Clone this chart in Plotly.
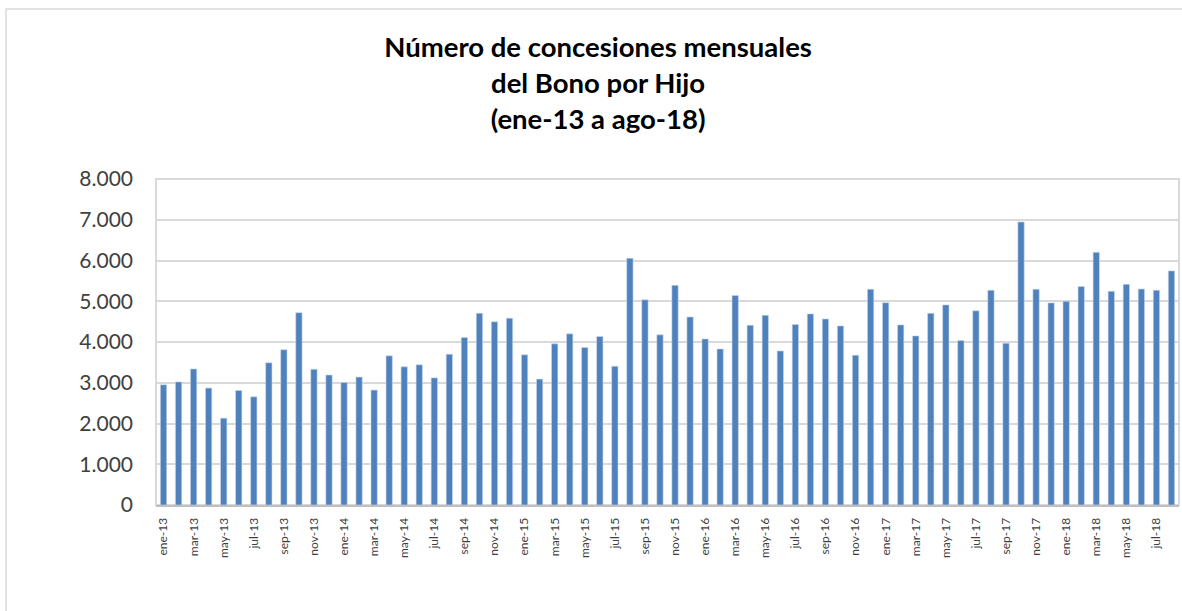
import plotly.graph_objects as go

months = ["ene", "feb", "mar", "abr", "may", "jun", "jul", "ago", "sep", "oct", "nov", "dic"]
categories = [f"{m}-{y}" for y in range(13, 19) for m in months][:68]

values = [
    2950, 3020, 3340, 2870, 2130, 2810, 2655, 3490, 3810, 4720, 3330, 3190,
    3005, 3140, 2820, 3660, 3390, 3440, 3120, 3700, 4110, 4705, 4495, 4585,
    3685, 3090, 3955, 4200, 3865, 4135, 3405, 6055, 5035, 4175, 5390, 4615,
    4075, 3830, 5140, 4410, 4655, 3780, 4430, 4690, 4565, 4395, 3675, 5295,
    4965, 4420, 4150, 4705, 4910, 4035, 4765, 5270, 3970, 6945, 5295, 4960,
    5000, 5360, 6200, 5245, 5415, 5300, 5270, 5745,
]

tick_labels = categories[::2]
y_ticks = [0, 1000, 2000, 3000, 4000, 5000, 6000, 7000, 8000]
y_tick_text = ["0", "1.000", "2.000", "3.000", "4.000", "5.000", "6.000", "7.000", "8.000"]

title_text = "Número de concesiones mensuales<br>del Bono por Hijo<br>(ene-13 a ago-18)"

fig = go.Figure()
fig.add_trace(go.Bar(
    x=categories,
    y=values,
    marker=dict(color="#4F81BD", line=dict(color="#C9D7EA", width=0.6)),
    showlegend=False,
))

W, H = 1182, 611
L, R, T, B = 156, 3, 179, 106
pw = W - L - R
ph = H - T - B

fig.update_layout(
    width=W, height=H,
    margin=dict(l=L, r=R, t=T, b=B),
    paper_bgcolor="white",
    plot_bgcolor="white",
    bargap=0.58,
    font=dict(family="Lato, 'Open Sans', sans-serif", color="#404040"),
    title=dict(
        text=title_text,
        x=0.506, xanchor="center",
        yref="container",
        y=1 - 57 / H, yanchor="top",
        font=dict(family="Lato, 'Open Sans', sans-serif", size=27.5, color="black", weight="bold"),
    ),
    xaxis=dict(
        type="category",
        tickmode="array",
        tickvals=tick_labels,
        ticktext=tick_labels,
        tickangle=-90,
        tickfont=dict(size=12, color="#404040"),
        showgrid=False,
        showline=True,
        linecolor="#BFBFBF",
        linewidth=2,
        ticks="",
        ticklabelstandoff=6,
        range=[-0.5, 67.5],
    ),
    yaxis=dict(
        range=[0, 8000],
        tickmode="array",
        tickvals=y_ticks,
        ticktext=y_tick_text,
        tickfont=dict(size=21, color="#404040"),
        showgrid=True,
        gridcolor="#D9D9D9",
        gridwidth=1.5,
        showline=False,
        zeroline=False,
        ticks="",
        ticklabelstandoff=22,
    ),
    shapes=[
        dict(type="rect", xref="paper", yref="paper", x0=0, x1=1, y0=0, y1=1,
             line=dict(color="#D9D9D9", width=2), layer="below"),
        dict(type="rect", xref="paper", yref="paper",
             x0=(6 - L) / pw, x1=(W + 20 - L) / pw,
             y0=(H - B - (H + 20)) / ph, y1=(H - B - 9) / ph,
             line=dict(color="#D9D9D9", width=1.5), layer="below"),
    ],
)

fig.write_html(
    "out.html",
    config={"displayModeBar": False},
    post_script="document.body.style.margin='0';document.body.style.overflow='hidden';",
)
